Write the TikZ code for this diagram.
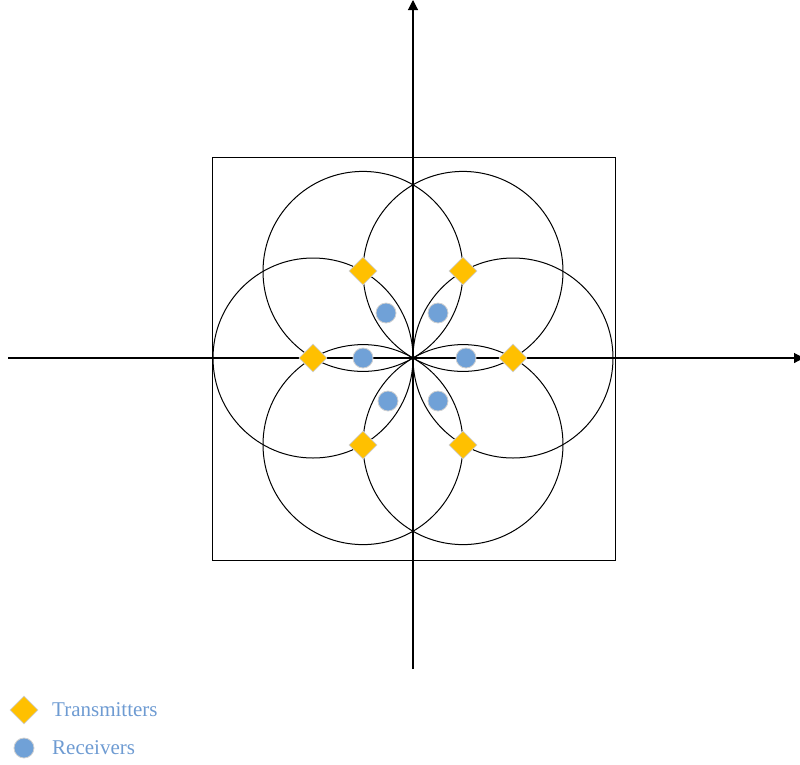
\documentclass[tikz,border=0pt]{standalone}
\usepackage{fontspec}
\setmainfont{Liberation Serif}
\usetikzlibrary{shapes.geometric,arrows.meta,calc}
\definecolor{tx}{HTML}{FFC000}
\definecolor{rx}{HTML}{70A1D7}
\definecolor{lbl}{HTML}{6E9BD2}
\definecolor{edge}{HTML}{D0D0D0}
\begin{document}
\begin{tikzpicture}[x=1pt,y=-1pt,
  txm/.style={diamond,fill=tx,draw=edge,line width=0.8pt,minimum width=28pt,minimum height=28pt,inner sep=0pt},
  rxm/.style={circle,fill=rx,draw=edge,line width=0.8pt,minimum size=20pt,inner sep=0pt},
  geo/.style={line width=1pt,black},
  axis/.style={line width=1.1pt,-{Triangle[length=10pt,width=10pt]}},
  lab/.style={anchor=west,text=lbl,font=\fontsize{21}{23}\selectfont,inner sep=0pt}]
\useasboundingbox (0,0) rectangle (800,764);
\coordinate (O) at (413,358);
\coordinate (xl) at (8,358);
\coordinate (xr) at (804,358);
\coordinate (yb) at (413,669);
\coordinate (yt) at (413,0);
\draw[geo] (212,157) rectangle (615,560);
\foreach \a in {0,60,...,300}{
  \draw[geo] ($(O)+(\a:100)$) circle (100pt);
}
\draw[axis] (xl) -- (xr);
\draw[axis] (yb) -- (yt);
\node[txm] (t1) at (313,358) {};
\node[txm] (t2) at (513,358) {};
\node[txm] (t3) at (363,271) {};
\node[txm] (t4) at (463,271) {};
\node[txm] (t5) at (363,445) {};
\node[txm] (t6) at (463,445) {};
\node[rxm] (r1) at (363,358) {};
\node[rxm] (r2) at (466,358) {};
\node[rxm] (r3) at (386,313) {};
\node[rxm] (r4) at (438,313) {};
\node[rxm] (r5) at (388,401) {};
\node[rxm] (r6) at (438,401) {};
\node[txm] (lt) at (24,710) {};
\node[rxm] (lr) at (24,748) {};
\node[lab] (ltt) at (52,710) {Transmitters};
\node[lab] (lrt) at (52,748) {Receivers};
\end{tikzpicture}
\end{document}
